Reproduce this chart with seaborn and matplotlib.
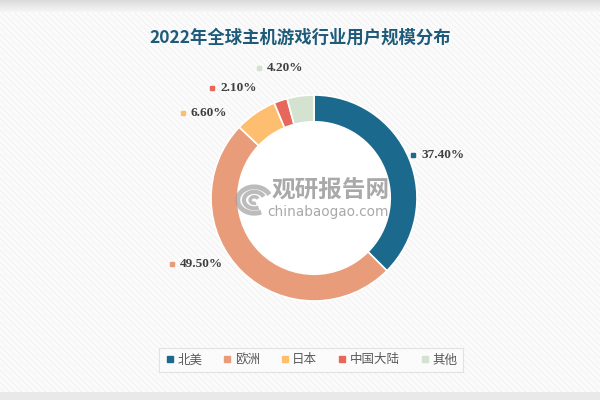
import numpy as np
import matplotlib
matplotlib.use("Agg")
import matplotlib.pyplot as plt
import seaborn as sns
from matplotlib.patches import Rectangle, Arc

sns.set_theme(style="white")
plt.rcParams['font.family'] = ['Noto Sans CJK SC', 'DejaVu Sans']

# ---- data ----
title = "2022年全球主机游戏行业用户规模分布"
categories = ["北美", "欧洲", "日本", "中国大陆", "其他"]
values = [37.4, 49.5, 6.6, 2.1, 4.2]
value_labels = ["37.40%", "49.50%", "6.60%", "2.10%", "4.20%"]
colors = ["#1b6a8e", "#e89c7a", "#fdbf6f", "#e8675b", "#d3e3d0"]

# label placement (angle in degrees, radius relative to outer radius)
label_angles = [23.5, -155.0, 147.0, 132.8, 113.0]
label_radii = [1.05, 1.52, 1.52, 1.46, 1.37]

fig = plt.figure(figsize=(6, 4), dpi=100)
fig.patch.set_facecolor("#fbfbfb")

# faint diagonal stripes in background
bg = fig.add_axes([0, 0, 1, 1], zorder=-10)
bg.set_xlim(0, 600)
bg.set_ylim(400, 0)
bg.axis("off")
for s in np.arange(-400, 1000, 6):
    bg.plot([s, s + 400], [0, 400], color="#f0f0f0", lw=0.6, zorder=0)
# top / bottom grey bands
for i in range(12):
    g = 0.86 + 0.1 * i / 11
    bg.add_patch(Rectangle((0, i), 600, 1, color=(g, g, g), lw=0, zorder=1))
bg.add_patch(Rectangle((0, 392), 600, 8, color="#e9e9e9", lw=0, zorder=1))

fig.text(0.5, 1 - 38 / 400, title, ha="center", va="center", fontsize=12.5,
         fontweight="bold", color="#1e5b7a",
         family=['Noto Sans CJK SC', 'DejaVu Sans'])

cx, cy, R = 314, 198, 103
ax = fig.add_axes([(cx - R) / 600, 1 - (cy + R) / 400, 2 * R / 600, 2 * R / 400])
ax.set_facecolor("none")
wedges, _ = ax.pie(values, colors=colors, startangle=90, counterclock=False,
                   radius=1.0,
                   wedgeprops=dict(width=0.26, edgecolor="white", linewidth=1.2))
ax.set_xlim(-1, 1)
ax.set_ylim(-1, 1)
ax.set_aspect("equal")
ax.axis("off")

# inner white disc with soft shadow
for k, a in enumerate([0.05, 0.04, 0.03]):
    ax.add_patch(plt.Circle((0.01, -0.01), 0.74 - 0.01 * k, color="#000000",
                            alpha=a, lw=0, zorder=0.5))
ax.add_patch(plt.Circle((0, 0), 0.735, color="white", lw=0, zorder=0.6))

# watermark
ax.text(0.165, 0.08, "观研报告网", ha="center", va="center", fontsize=17,
        fontweight="bold", color="#8c8c8c", alpha=0.75, zorder=1)
ax.text(0.135, -0.14, "chinabaogao.com", ha="center", va="center", fontsize=9.8,
        color="#8c8c8c", alpha=0.75, zorder=1, family=["DejaVu Sans"])
for rr, lw in [(0.16, 3.5), (0.10, 3.0), (0.04, 2.5)]:
    ax.add_patch(Arc((-0.58, -0.02), 2 * rr, 2 * rr * 0.8, theta1=20, theta2=300,
                     color="#a0a0a0", lw=lw, alpha=0.7, zorder=1))

# labels
for lab, ang, r, col in zip(value_labels, label_angles, label_radii, colors):
    x = r * np.cos(np.deg2rad(ang))
    y = r * np.sin(np.deg2rad(ang))
    ax.plot([x], [y], marker="s", ms=3.5, color=col, clip_on=False, zorder=3)
    ax.text(x + 0.08, y, lab, ha="left", va="center", fontsize=9.5,
            fontweight="bold", color="#3f3f3f", family=["Liberation Serif"],
            clip_on=False)

# legend
handles = [plt.Line2D([], [], marker="s", ls="", ms=4.5, color=c) for c in colors]
leg = fig.legend(handles, categories, loc="center", ncol=5,
                 bbox_to_anchor=(311 / 600, 1 - 360 / 400), frameon=True,
                 fontsize=9, handletextpad=0.2, columnspacing=1.6,
                 borderpad=0.35, handlelength=0.8)
leg.get_frame().set_edgecolor("#dddddd")
leg.get_frame().set_facecolor("#fcfcfc")
leg.get_frame().set_linewidth(0.8)
leg.get_frame().set_boxstyle("square", pad=0.1)
for t in leg.get_texts():
    t.set_color("#595959")

fig.savefig("out.png", dpi=100, facecolor=fig.get_facecolor())
